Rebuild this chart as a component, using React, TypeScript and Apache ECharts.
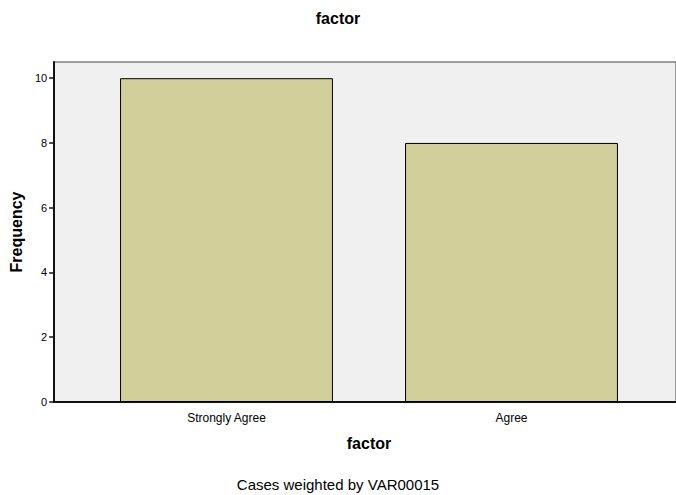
import React, { useEffect, useRef } from "react";
import * as echarts from "echarts";

const categories = ["Strongly Agree", "Agree"];
const frequencies = [10, 8];
const yTicks = { min: 0, max: 10.5, interval: 2 };

export default function App() {
  const ref = useRef<HTMLDivElement>(null);
  useEffect(() => {
    document.body.style.margin = "0";
    const chart = echarts.init(ref.current!, null, { renderer: "svg" });
    const font = "'Liberation Sans', Arial, sans-serif";
    chart.setOption({
      animation: false,
      backgroundColor: "#ffffff",
      textStyle: { fontFamily: font },
      title: [
        {
          text: "factor",
          left: "center",
          top: 5,
          textStyle: { fontFamily: font, fontSize: 16, fontWeight: "bold", color: "#000" },
        },
        {
          text: "Cases weighted by VAR00015",
          left: "center",
          top: 472,
          textStyle: { fontFamily: font, fontSize: 15, fontWeight: "normal", color: "#000" },
        },
      ],
      grid: [
        {
          left: 53,
          right: -10,
          top: 62,
          bottom: 93,
          show: true,
          backgroundColor: "#f0f0f0",
          borderColor: "#444",
          borderWidth: 1,
        },
        { left: 84, right: 22, top: 62, bottom: 93 },
      ],
      xAxis: [
        {
          gridIndex: 0,
          type: "value",
          show: true,
          min: 0,
          max: 1,
          axisLine: { show: true, lineStyle: { color: "#111", width: 2 } },
          axisTick: { show: false },
          axisLabel: { show: false },
          splitLine: { show: false },
        },
        {
          gridIndex: 1,
          type: "category",
          data: categories,
          axisLine: { show: false },
          axisTick: { show: false },
          axisLabel: { fontFamily: font, fontSize: 12, color: "#000", margin: 10 },
          name: "factor",
          nameLocation: "middle",
          nameGap: 33,
          nameTextStyle: { fontFamily: font, fontSize: 16, fontWeight: "bold", color: "#000" },
        },
      ],
      yAxis: [
        {
          gridIndex: 0,
          type: "value",
          min: yTicks.min,
          max: yTicks.max,
          interval: yTicks.interval,
          axisLine: { show: true, lineStyle: { color: "#111", width: 2 } },
          axisTick: { show: true, length: 5, lineStyle: { color: "#111", width: 1.5 } },
          axisLabel: {
            fontFamily: font,
            fontSize: 11,
            color: "#000",
            margin: 7,
            showMaxLabel: false,
            formatter: (v: number) => (v % 2 === 0 ? String(v) : ""),
          },
          splitLine: { show: false },
          name: "Frequency",
          nameLocation: "middle",
          nameRotate: 90,
          nameGap: 28,
          nameTextStyle: { fontFamily: font, fontSize: 16, fontWeight: "bold", color: "#000" },
        },
        {
          gridIndex: 1,
          type: "value",
          min: yTicks.min,
          max: yTicks.max,
          show: false,
        },
      ],
      series: [
        {
          type: "bar",
          xAxisIndex: 1,
          yAxisIndex: 1,
          data: frequencies,
          barWidth: "74.7%",
          itemStyle: { color: "#d3cf9b", borderColor: "#000", borderWidth: 1 },
        },
      ],
    });
    return () => chart.dispose();
  }, []);
  return (
    <div
      ref={ref}
      style={{ position: "absolute", left: 0, top: 0, width: 676, height: 495 }}
    />
  );
}
